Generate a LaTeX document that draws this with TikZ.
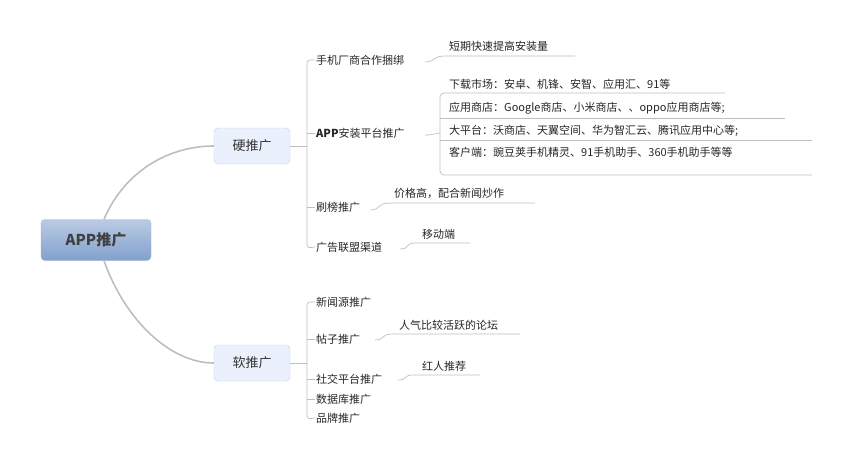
\documentclass[tikz,border=0pt]{standalone}
\usepackage{fontspec}
\setmainfont{Noto Sans CJK SC}
\usetikzlibrary{positioning}
\definecolor{lineg}{RGB}{190,190,190}
\definecolor{rootc}{RGB}{130,160,205}
\definecolor{boxc}{RGB}{234,241,252}
\definecolor{boxd}{RGB}{190,205,230}
\tikzset{
  rootbox/.style={draw=rootc!80!white, rounded corners=4pt, top color=rootc!55!white, bottom color=rootc,
    minimum width=110pt, minimum height=41pt, font=\fontsize{15}{15}\selectfont\bfseries, text=black!75},
  mainbox/.style={draw=boxd, fill=boxc, rounded corners=4pt, minimum width=76pt, minimum height=36pt,
    font=\fontsize{13}{13}\selectfont, text=black!80},
  topic/.style={anchor=west, inner sep=1pt, font=\fontsize{11}{11}\selectfont, text=black!85},
  leaf/.style={anchor=west, inner sep=1pt, font=\fontsize{11}{11}\selectfont, text=black!85},
  branch/.style={draw=lineg, line width=1.6pt},
  twig/.style={draw=lineg, line width=0.7pt},
}
\begin{document}
\begin{tikzpicture}[x=1pt,y=-1pt]
\useasboundingbox (0,0) rectangle (851,466);
\node[rootbox] (root) at (96,240) {APP推广};
\node[mainbox] (hard) at (252,146) {硬推广};
\node[mainbox] (soft) at (252,363) {软推广};

\draw[branch] (root.north) ++(8,0) coordinate (r1) .. controls (125,170) and (170,146) .. (hard.west);
\draw[branch] (root.south) ++(8,0) coordinate (r2) .. controls (125,320) and (170,363) .. (soft.west);

% hard branch
\node[topic] (h1) at (315,60) {手机厂商合作捆绑};
\node[topic] (h2) at (315,133) {\textbf{APP}安装平台推广};
\node[topic] (h3) at (315,207) {刷榜推广};
\node[topic] (h4) at (315,247) {广告联盟渠道};
\coordinate (hj) at (307,146);
\draw[twig] (hard.east) -- (hj);
\draw[twig] (h1.west) -- ++(-3,0) [rounded corners=3pt] -- (307,60) -- (307,248) -- (h4.west);
\draw[twig] (h2.west) -- (307,133);
\draw[twig] (h3.west) -- (307,207);

\node[leaf] (l1) at (448,46) {短期快速提高安装量};
\draw[twig] (425,62) .. controls (436,62) and (432,56) .. (445,56) -- (575,56);

\node[leaf] (l2a) at (448,84) {下载市场：安卓、机锋、安智、应用汇、91等};
\node[leaf] (l2b) at (448,108) {应用商店：Google商店、小米商店、、oppo应用商店等;};
\node[leaf] (l2c) at (448,131) {大平台：沃商店、天翼空间、华为智汇云、腾讯应用中心等;};
\node[leaf] (l2d) at (448,152) {客户端：豌豆荚手机精灵、91手机助手、360手机助手等等};
\draw[twig] (425,135) .. controls (434,135) and (436,133) .. (440,133);
\draw[twig] (725,93) -- (446,93) [rounded corners=4pt] -- (440,93) -- (440,175) -- (812,175);
\draw[twig] (440,118) -- (785,118);
\draw[twig] (440,140) -- (812,140);

\node[leaf] (l3) at (393,193) {价格高，配合新闻炒作};
\draw[twig] (370,210) .. controls (381,210) and (377,203) .. (390,203) -- (535,203);

\node[leaf] (l4) at (421,234) {移动端};
\draw[twig] (400,249) .. controls (410,249) and (405,243) .. (415,243) -- (470,243);

% soft branch
\node[topic] (s1) at (315,302) {新闻源推广};
\node[topic] (s2) at (315,339) {帖子推广};
\node[topic] (s3) at (315,379) {社交平台推广};
\node[topic] (s4) at (315,399) {数据库推广};
\node[topic] (s5) at (315,418) {品牌推广};
\draw[twig] (soft.east) -- (307,363);
\draw[twig] (s1.west) -- ++(-3,0) [rounded corners=3pt] -- (307,302) -- (307,419) -- (s5.west);
\draw[twig] (s2.west) -- (307,339);
\draw[twig] (s3.west) -- (307,379);
\draw[twig] (s4.west) -- (307,399);

\node[leaf] (l5) at (398,325) {人气比较活跃的论坛};
\draw[twig] (375,340) .. controls (386,340) and (380,334) .. (392,334) -- (520,334);

\node[leaf] (l6) at (421,366) {红人推荐};
\draw[twig] (398,380) .. controls (408,380) and (403,375) .. (413,375) -- (480,375);
\end{tikzpicture}
\end{document}
